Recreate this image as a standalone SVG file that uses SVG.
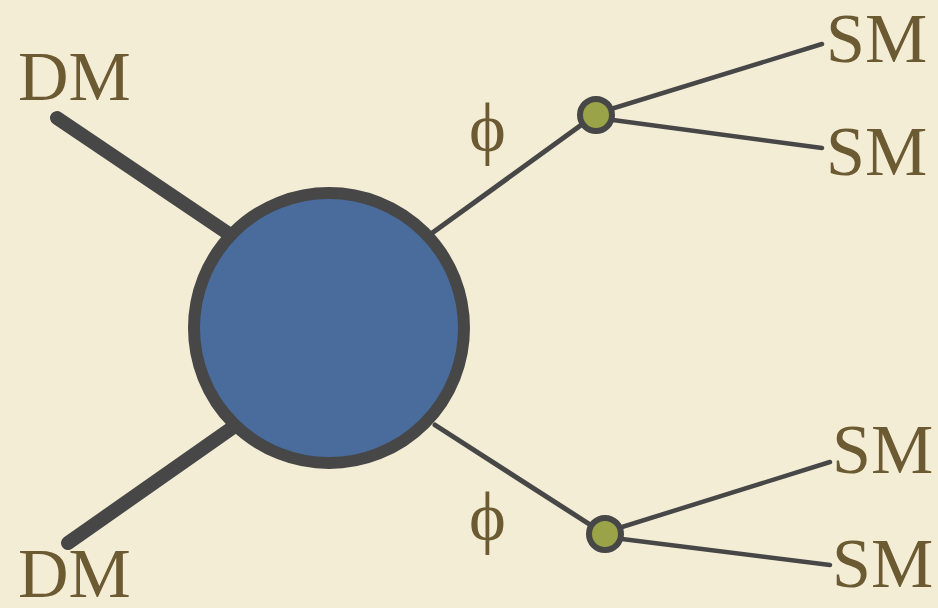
<svg xmlns="http://www.w3.org/2000/svg" width="938" height="608" viewBox="0 0 938 608">
<style>
.lbl{font-family:"Liberation Serif","DejaVu Serif",serif;font-size:70px;fill:#6b5a32}
.thick{stroke:#474747;stroke-width:14;stroke-linecap:round;fill:none}
.thin{stroke:#474747;stroke-width:5;stroke-linecap:round;fill:none}
.sm{stroke:#474747;stroke-width:4.5;stroke-linecap:round;fill:none}
.vtx{fill:#9aa347;stroke:#474747;stroke-width:6}
</style>
<rect width="938" height="608" fill="#f4edd6"/>
<g id="connectors">
<line class="thick" x1="57" y1="118" x2="232" y2="236"/>
<line class="thick" x1="68" y1="543" x2="232" y2="428"/>
<line class="thin" x1="428" y1="236" x2="595" y2="115"/>
<line class="thin" x1="435" y1="425" x2="603" y2="533"/>
<line class="sm" x1="598" y1="113" x2="822" y2="44"/>
<line class="sm" x1="598" y1="118" x2="822" y2="148"/>
<line class="sm" x1="606" y1="532" x2="830" y2="462"/>
<line class="sm" x1="606" y1="537" x2="830" y2="565"/>
</g>
<g id="blob">
<circle cx="329" cy="328" r="135" fill="#4a6c9c" stroke="#474747" stroke-width="12"/>
</g>
<g id="vertex1"><circle class="vtx" cx="596" cy="115" r="16"/></g>
<g id="vertex2"><circle class="vtx" cx="605" cy="534" r="16"/></g>
<g id="labels">
<text class="lbl" x="18" y="100">DM</text>
<text class="lbl" x="18" y="597">DM</text>
<text class="lbl" x="826" y="62">SM</text>
<text class="lbl" x="826" y="175">SM</text>
<text class="lbl" x="832" y="473">SM</text>
<text class="lbl" x="832" y="587">SM</text>
<text class="lbl" x="469" y="151">ϕ</text>
<text class="lbl" x="469" y="540">ϕ</text>
</g>
</svg>
